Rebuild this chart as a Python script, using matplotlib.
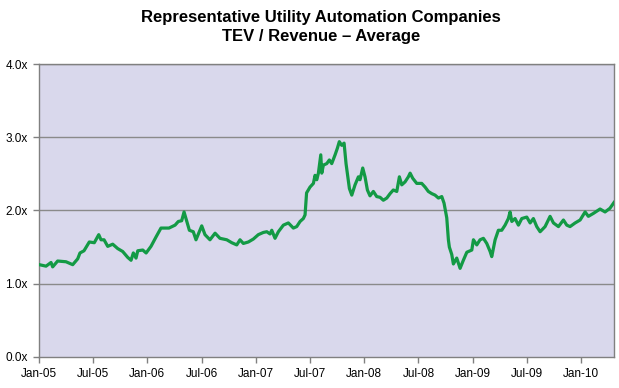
import matplotlib
matplotlib.use("Agg")
import matplotlib.pyplot as plt

# time in years since Jan-2005
years_since_jan05 = [
    0.003, 0.065, 0.111, 0.126, 0.172, 0.249, 0.311, 0.357, 0.378, 0.415,
    0.464, 0.510, 0.551, 0.572, 0.600, 0.634, 0.680, 0.726, 0.772, 0.818,
    0.849, 0.870, 0.895, 0.911, 0.957, 0.988, 1.033, 1.080, 1.125, 1.172,
    1.199, 1.255, 1.285, 1.316, 1.338, 1.363, 1.387, 1.423, 1.448, 1.485,
    1.501, 1.531, 1.577, 1.624, 1.669, 1.732, 1.778, 1.824, 1.854, 1.885,
    1.931, 1.977, 2.023, 2.069, 2.101, 2.131, 2.147, 2.177, 2.208, 2.254,
    2.300, 2.346, 2.377, 2.408, 2.438, 2.454, 2.468, 2.500, 2.531, 2.546,
    2.562, 2.577, 2.599, 2.608, 2.623, 2.654, 2.678, 2.700, 2.731, 2.752,
    2.770, 2.792, 2.814, 2.832, 2.844, 2.863, 2.885, 2.915, 2.946, 2.961,
    2.986, 3.007, 3.029, 3.053, 3.084, 3.115, 3.146, 3.176, 3.208, 3.238,
    3.268, 3.300, 3.324, 3.346, 3.376, 3.407, 3.423, 3.447, 3.484, 3.530,
    3.561, 3.591, 3.623, 3.653, 3.684, 3.715, 3.736, 3.761, 3.776, 3.785,
    3.807, 3.822, 3.853, 3.884, 3.914, 3.946, 3.992, 4.007, 4.038, 4.068,
    4.099, 4.130, 4.161, 4.176, 4.207, 4.237, 4.268, 4.299, 4.329, 4.345,
    4.361, 4.391, 4.422, 4.453, 4.499, 4.530, 4.560, 4.591, 4.622, 4.668,
    4.714, 4.745, 4.791, 4.837, 4.868, 4.898, 4.945, 4.991, 5.037, 5.067,
    5.113, 5.175, 5.221, 5.266, 5.304,
]
tev_revenue = [
    1.26, 1.24, 1.29, 1.23, 1.31, 1.30, 1.26, 1.34, 1.42, 1.45,
    1.57, 1.56, 1.67, 1.60, 1.60, 1.51, 1.54, 1.48, 1.44, 1.36,
    1.32, 1.42, 1.35, 1.45, 1.46, 1.42, 1.51, 1.64, 1.76, 1.76,
    1.76, 1.80, 1.85, 1.86, 1.98, 1.85, 1.73, 1.71, 1.60, 1.73,
    1.79, 1.67, 1.60, 1.69, 1.62, 1.60, 1.56, 1.53, 1.60, 1.55,
    1.57, 1.61, 1.67, 1.70, 1.71, 1.68, 1.73, 1.62, 1.71, 1.80,
    1.83, 1.76, 1.78, 1.85, 1.89, 1.94, 2.24, 2.32, 2.37, 2.48,
    2.42, 2.51, 2.76, 2.51, 2.62, 2.64, 2.69, 2.64, 2.76, 2.85,
    2.94, 2.89, 2.92, 2.64, 2.51, 2.30, 2.21, 2.35, 2.46, 2.42,
    2.58, 2.46, 2.28, 2.20, 2.26, 2.19, 2.18, 2.14, 2.17, 2.23,
    2.28, 2.26, 2.46, 2.35, 2.39, 2.46, 2.51, 2.44, 2.37, 2.37,
    2.32, 2.26, 2.23, 2.21, 2.17, 2.19, 2.10, 1.90, 1.60, 1.50,
    1.40, 1.27, 1.35, 1.21, 1.32, 1.43, 1.46, 1.60, 1.53, 1.60,
    1.62, 1.55, 1.44, 1.37, 1.60, 1.73, 1.73, 1.80, 1.89, 1.98,
    1.85, 1.89, 1.80, 1.89, 1.91, 1.83, 1.89, 1.78, 1.71, 1.78,
    1.92, 1.83, 1.78, 1.87, 1.80, 1.78, 1.83, 1.87, 1.98, 1.92,
    1.96, 2.02, 1.98, 2.03, 2.11,
]
x_tick_pos = [0.0, 0.5, 1.0, 1.5, 2.0, 2.5, 3.0, 3.5, 4.0, 4.5, 5.0]
x_tick_labels = ["Jan-05", "Jul-05", "Jan-06", "Jul-06", "Jan-07", "Jul-07",
                 "Jan-08", "Jul-08", "Jan-09", "Jul-09", "Jan-10"]
y_ticks = [0.0, 1.0, 2.0, 3.0, 4.0]
y_tick_labels = ["0.0x", "1.0x", "2.0x", "3.0x", "4.0x"]
title = "Representative Utility Automation Companies\nTEV / Revenue \u2013 Average"

plt.rcParams["font.family"] = ["Liberation Sans", "DejaVu Sans"]

fig = plt.figure(figsize=(6.19, 3.88), dpi=100)
ax = fig.add_axes([0.063, 0.080, 0.929, 0.755])
ax.set_facecolor("#D9D8EC")

for y in y_ticks[1:]:
    ax.axhline(y, color="#8A8A8A", lw=1.0, zorder=1)

ax.plot(years_since_jan05, tev_revenue, color="#139A45", lw=2.3, zorder=3)

ax.set_xlim(0, 5.304)
ax.set_ylim(0, 4.0)
ax.set_xticks(x_tick_pos)
ax.set_xticklabels(x_tick_labels, fontsize=8.5)
ax.set_yticks(y_ticks)
ax.set_yticklabels(y_tick_labels, fontsize=8.5)
ax.tick_params(axis="both", direction="out", length=4, width=1, color="#808080", pad=4)

for s in ax.spines.values():
    s.set_color("#808080")
    s.set_linewidth(1.0)

fig.text(0.519, 0.975, title, ha="center", va="top", fontsize=12, fontweight="bold",
         linespacing=1.35)

fig.savefig("out.png", dpi=100)
